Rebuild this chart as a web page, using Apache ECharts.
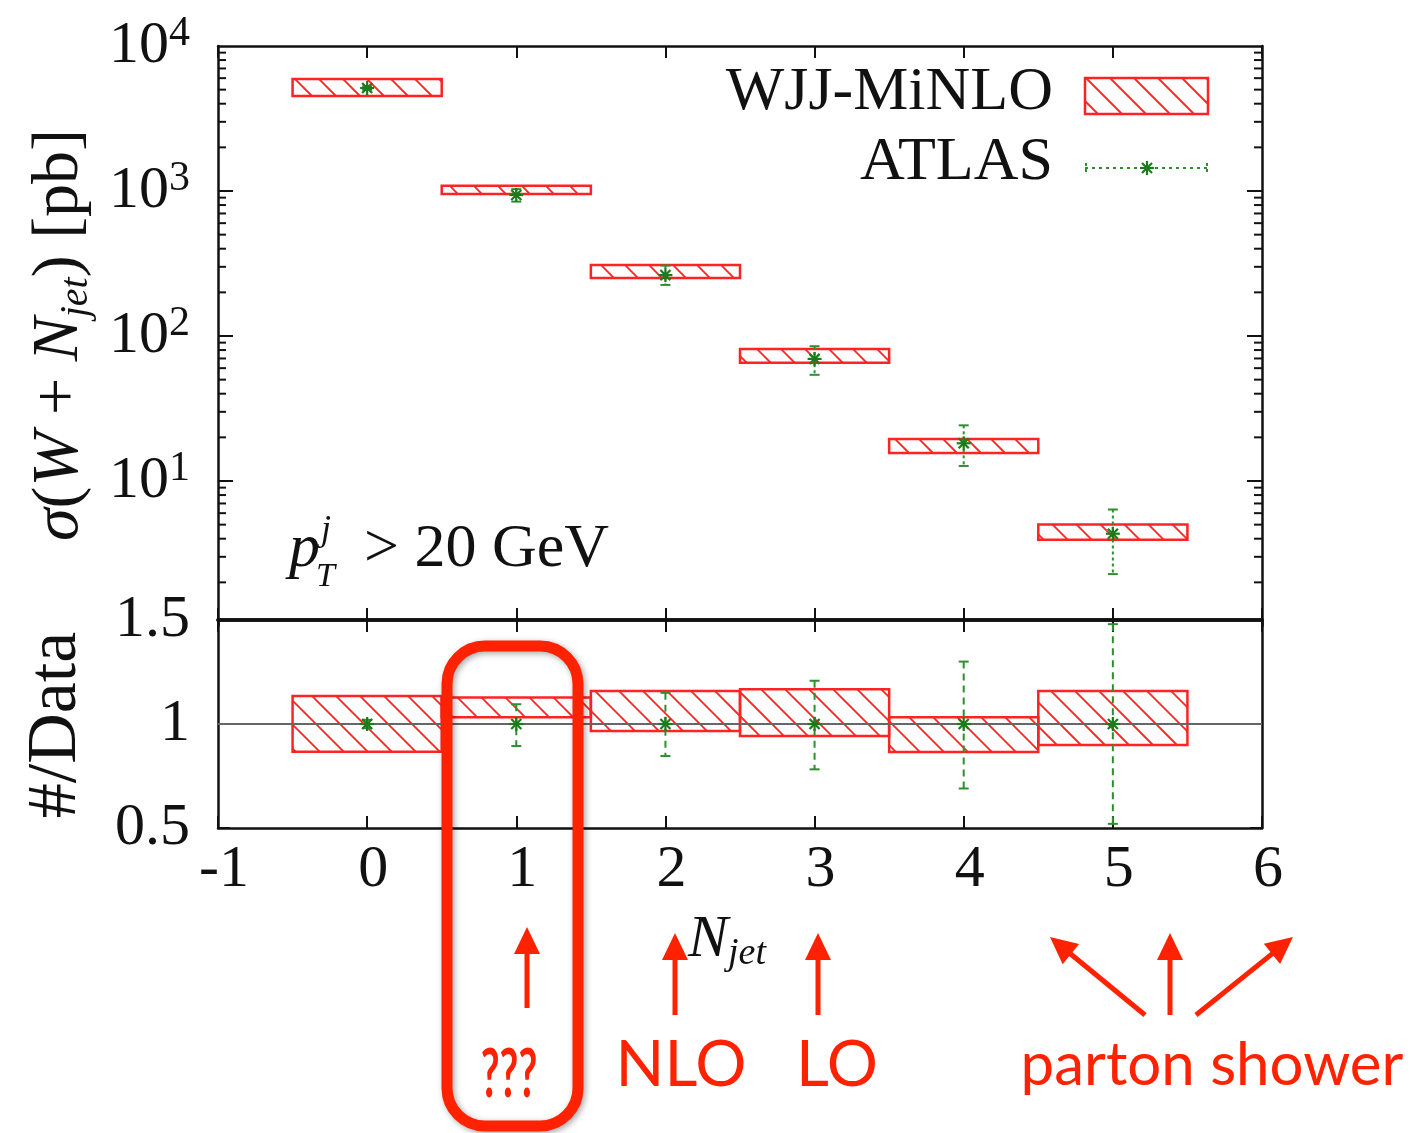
<!DOCTYPE html>
<html>
<head>
<meta charset="utf-8">
<script src="https://cdn.jsdelivr.net/npm/echarts@6/dist/echarts.min.js"></script>
<style>
html,body{margin:0;padding:0;background:#fff;}
#main{width:1416px;height:1133px;}
</style>
</head>
<body>
<div id="main"></div>
<script>
// jet multiplicity bins
var njet = [0, 1, 2, 3, 4, 5];
// WJJ-MiNLO band, cross section [pb]
var minloLo = [4520, 953, 251, 65.3, 15.6, 3.94];
var minloHi = [5915, 1089, 309, 81.5, 19.5, 5.02];
// ATLAS measurement [pb] and its error bar ends
var atlasVal = [5130, 938, 263, 69.5, 18.2, 4.33];
var atlasLo = [4990, 845, 225, 54, 12.7, 2.28];
var atlasHi = [5270, 1030, 306, 85, 24.2, 6.36];
// ratio panel: WJJ-MiNLO / data band
var ratioLo = [0.867, 1.032, 0.966, 0.942, 0.865, 0.899];
var ratioHi = [1.135, 1.128, 1.159, 1.167, 1.032, 1.159];
// ratio panel: data / data with relative error ends
var dataRatio = [1, 1, 1, 1, 1, 1];
var dataRatioLo = [0.98, 0.894, 0.846, 0.782, 0.69, 0.52];
var dataRatioHi = [1.02, 1.095, 1.15, 1.208, 1.30, 1.48];
// log axis ticks
var logDecades = [1, 10, 100, 1000];
var logMantissas = [1, 2, 3, 4, 5, 6, 7, 8, 9];

var SERIF = '"Liberation Serif", "DejaVu Serif", serif';
var SANS = 'Lato, "Open Sans", sans-serif';
var RED = '#ff2200';
var BOXRED = '#ff2323';
var GREEN = '#1d7a1d';
var INK = '#111';

var chart = echarts.init(document.getElementById('main'));

function hatchBox(x0, y0, x1, y1, step) {
  var out = [{
    type: 'rect', shape: {x: x0, y: y0, width: x1 - x0, height: y1 - y0},
    style: {fill: null, stroke: BOXRED, lineWidth: 2.5}
  }];
  var k = Math.ceil((x0 - y1) / step) * step;
  for (; k <= x1 - y0; k += step) {
    var ya = Math.max(y0, x0 - k), yb = Math.min(y1, x1 - k);
    if (yb > ya) {
      out.push({type: 'line', shape: {x1: ya + k, y1: ya, x2: yb + k, y2: yb},
        style: {stroke: BOXRED, lineWidth: 1.8}});
    }
  }
  return out;
}

function star(cx, cy, r, color) {
  var d = r * 0.72;
  return [
    [cx - r, cy, cx + r, cy], [cx, cy - r, cx, cy + r],
    [cx - d, cy - d, cx + d, cy + d], [cx - d, cy + d, cx + d, cy - d]
  ].map(function (s) {
    return {type: 'line', shape: {x1: s[0], y1: s[1], x2: s[2], y2: s[3]}, style: {stroke: color, lineWidth: 2.2}};
  });
}

function renderBand(params, api) {
  var n = api.value(0);
  var a = api.coord([n - 0.5, api.value(2)]);
  var b = api.coord([n + 0.5, api.value(1)]);
  return {type: 'group', children: hatchBox(a[0], a[1], b[0], b[1], 24)};
}

function makeErrRender(dash, capW) {
  return function (params, api) {
    var n = api.value(0);
    var c = api.coord([n, api.value(1)]);
    var lo = api.coord([n, api.value(2)]);
    var hi = api.coord([n, api.value(3)]);
    var st = {stroke: '#2f8f2f', lineWidth: 2, lineDash: dash};
    var kids = [
      {type: 'line', shape: {x1: c[0], y1: hi[1], x2: c[0], y2: lo[1]}, style: st},
      {type: 'line', shape: {x1: c[0] - capW / 2, y1: hi[1], x2: c[0] + capW / 2, y2: hi[1]}, style: {stroke: '#2f8f2f', lineWidth: 2}},
      {type: 'line', shape: {x1: c[0] - capW / 2, y1: lo[1], x2: c[0] + capW / 2, y2: lo[1]}, style: {stroke: '#2f8f2f', lineWidth: 2}}
    ];
    return {type: 'group', children: kids.concat(star(c[0], c[1], 7, GREEN))};
  };
}

function renderLogTick(params, api) {
  var v = api.value(1), len = api.value(2) ? 15 : 8;
  var l = api.coord([-1, v]), r = api.coord([6, v]);
  return {type: 'group', children: [
    {type: 'line', shape: {x1: l[0], y1: l[1], x2: l[0] + len, y2: l[1]}, style: {stroke: INK, lineWidth: 2}},
    {type: 'line', shape: {x1: r[0] - len, y1: r[1], x2: r[0], y2: r[1]}, style: {stroke: INK, lineWidth: 2}}
  ]};
}

var logTicks = [];
logDecades.forEach(function (d) {
  logMantissas.forEach(function (m) {
    if (m * d > 1) logTicks.push([-1, m * d, m === 1 ? 1 : 0]);
  });
});

function arrow(x1, y1, x2, y2) {
  var ang = Math.atan2(y2 - y1, x2 - x1), L = 27, W = 13;
  var bx = x2 - L * Math.cos(ang), by = y2 - L * Math.sin(ang);
  var nx = -Math.sin(ang), ny = Math.cos(ang);
  return [
    {type: 'line', z: 20, shape: {x1: x1, y1: y1, x2: bx + L * 0.3 * Math.cos(ang), y2: by + L * 0.3 * Math.sin(ang)}, style: {stroke: RED, lineWidth: 5}},
    {type: 'polygon', z: 20, shape: {points: [[x2, y2], [bx + nx * W, by + ny * W], [bx - nx * W, by - ny * W]]}, style: {fill: RED}}
  ];
}

function txt(x, y, text, size, opts, extra) {
  var s = {text: text, fontSize: size, fontFamily: SERIF, fill: INK, align: 'left', verticalAlign: 'middle'};
  for (var k in opts) s[k] = opts[k];
  var el = {type: 'text', x: x, y: y, z: 10, style: s};
  for (var e in extra) el[e] = extra[e];
  return el;
}

var axisCommon = {
  splitLine: {show: false},
  axisLine: {show: true, onZero: false, lineStyle: {color: INK, width: 2.5}},
  axisTick: {show: true, inside: true, length: 12, lineStyle: {color: INK, width: 2}},
  axisLabel: {show: false}
};
function ax(extra) {
  var o = JSON.parse(JSON.stringify(axisCommon));
  for (var k in extra) o[k] = extra[k];
  return o;
}

var legendItems = [].concat(
  hatchBox(1085, 78, 1208, 114, 24),
  [
    {type: 'line', shape: {x1: 1085, y1: 168, x2: 1208, y2: 168}, style: {stroke: '#2f8f2f', lineWidth: 2, lineDash: [3, 4]}},
    {type: 'line', shape: {x1: 1086, y1: 163, x2: 1086, y2: 173}, style: {stroke: '#2f8f2f', lineWidth: 2, lineDash: [3, 3]}},
    {type: 'line', shape: {x1: 1207, y1: 163, x2: 1207, y2: 173}, style: {stroke: '#2f8f2f', lineWidth: 2, lineDash: [3, 3]}}
  ],
  star(1147, 168, 7, GREEN)
);

var richTitle = {
  n: {fontSize: 66, fontFamily: SERIF, lineHeight: 72, fill: INK},
  i: {fontSize: 66, fontFamily: SERIF, fontStyle: 'italic', lineHeight: 72, fill: INK},
  sub: {fontSize: 40, fontFamily: SERIF, fontStyle: 'italic', lineHeight: 28, verticalAlign: 'bottom', fill: INK}
};
var richAxisName = {
  i: {fontSize: 60, fontFamily: SERIF, fontStyle: 'italic', lineHeight: 66, fill: INK},
  sub: {fontSize: 38, fontFamily: SERIF, fontStyle: 'italic', lineHeight: 26, verticalAlign: 'bottom', fill: INK}
};

var graphics = [].concat(
  legendItems,
  [
    txt(1053, 93, 'WJJ-MiNLO', 62, {align: 'right'}),
    txt(1053, 163, 'ATLAS', 62, {align: 'right'}),
    {type: 'text', x: 60, y: 335, rotation: Math.PI / 2, z: 10, style: {
      text: '{i|σ}{n|(}{i|W}{n| + }{i|N}{sub|jet}{n|) [pb]}', rich: richTitle,
      align: 'center', verticalAlign: 'middle', fontFamily: SERIF}},
    {type: 'text', x: 57, y: 725, rotation: Math.PI / 2, z: 10, style: {
      text: '#/Data', fontSize: 70, fontFamily: SERIF, fill: INK, align: 'center', verticalAlign: 'middle'}},
    txt(289, 550, 'p', 62, {fontStyle: 'italic'}),
    txt(321, 531, 'j', 36, {fontStyle: 'italic'}),
    txt(316, 577, 'T', 34, {fontStyle: 'italic'}),
    txt(364, 550, '> 20 GeV', 62),
    {type: 'text', x: 688, y: 940, z: 10, style: {
      text: '{i|N}{sub|jet}', rich: richAxisName, align: 'left', verticalAlign: 'middle', fontFamily: SERIF}},
    {type: 'rect', z: 20, shape: {x: 447, y: 646, width: 131, height: 480, r: 38},
      style: {fill: null, stroke: RED, lineWidth: 11, shadowBlur: 6, shadowColor: 'rgba(0,0,0,0.35)', shadowOffsetX: 2, shadowOffsetY: 2}},
    txt(509, 1076, '???', 66, {fontFamily: SANS, fontWeight: 'bold', fill: RED, align: 'center'}, {scaleX: 0.62}),
    txt(681, 1065, 'NLO', 64, {fontFamily: SANS, fill: RED, align: 'center'}),
    txt(837, 1065, 'LO', 64, {fontFamily: SANS, fill: RED, align: 'center'}),
    txt(1212, 1066, 'parton shower', 60, {fontFamily: SANS, fill: RED, align: 'center'})
  ],
  arrow(527, 1008, 527, 927),
  arrow(675, 1015, 675, 933),
  arrow(818, 1015, 818, 933),
  arrow(1170, 1015, 1170, 933),
  arrow(1145, 1015, 1050, 937),
  arrow(1196, 1015, 1293, 937)
);

chart.setOption({
  animation: false,
  backgroundColor: '#fff',
  grid: [
    {left: 218, top: 46, width: 1044, height: 580},
    {left: 218, top: 620, width: 1044, height: 208}
  ],
  xAxis: [
    ax({gridIndex: 0, type: 'value', min: -1, max: 6, interval: 1, position: 'top'}),
    ax({gridIndex: 0, type: 'value', min: -1, max: 6, interval: 1, position: 'bottom', offset: -6,
      axisLine: {show: true, onZero: false, lineStyle: {color: INK, width: 3.5}}}),
    ax({gridIndex: 1, type: 'value', min: -1, max: 6, interval: 1, position: 'top',
      axisLine: {show: true, onZero: false, lineStyle: {color: INK, width: 3.5}}}),
    ax({gridIndex: 1, type: 'value', min: -1, max: 6, interval: 1, position: 'bottom',
      axisLabel: {show: true, fontSize: 60, fontFamily: SERIF, color: INK, margin: 12, padding: [0, 0, 0, 12]}})
  ],
  yAxis: [
    ax({gridIndex: 0, type: 'log', logBase: 10, min: 1, max: 10000, position: 'left',
      axisTick: {show: false},
      axisLabel: {show: true, margin: 28, color: INK,
        formatter: function (v) {
          var e = Math.round(Math.log10(v));
          return e < 1 ? '' : '{b|10}{s|' + e + '}';
        },
        rich: {
          b: {fontSize: 60, fontFamily: SERIF, lineHeight: 66, color: INK},
          s: {fontSize: 42, fontFamily: SERIF, lineHeight: 36, verticalAlign: 'top', color: INK}
        }}}),
    ax({gridIndex: 0, type: 'log', logBase: 10, min: 1, max: 10000, position: 'right', axisTick: {show: false}}),
    ax({gridIndex: 1, type: 'value', min: 0.5, max: 1.5, interval: 0.5, position: 'left',
      axisLabel: {show: true, fontSize: 60, fontFamily: SERIF, color: INK, margin: 28}}),
    ax({gridIndex: 1, type: 'value', min: 0.5, max: 1.5, interval: 0.5, position: 'right'})
  ],
  series: [
    {type: 'custom', xAxisIndex: 0, yAxisIndex: 0, silent: true, renderItem: renderLogTick, data: logTicks},
    {type: 'custom', name: 'WJJ-MiNLO', xAxisIndex: 0, yAxisIndex: 0, silent: true, renderItem: renderBand,
      data: njet.map(function (n, i) { return [n, minloLo[i], minloHi[i]]; })},
    {type: 'custom', name: 'ATLAS', xAxisIndex: 0, yAxisIndex: 0, silent: true, z: 5,
      renderItem: makeErrRender([3, 3], 10),
      data: njet.map(function (n, i) { return [n, atlasVal[i], atlasLo[i], atlasHi[i]]; })},
    {type: 'line', xAxisIndex: 3, yAxisIndex: 2, silent: true, symbol: 'none',
      lineStyle: {color: '#666', width: 2.2}, data: [[-1, 1], [6, 1]]},
    {type: 'custom', xAxisIndex: 3, yAxisIndex: 2, silent: true, renderItem: renderBand,
      data: njet.map(function (n, i) { return [n, ratioLo[i], ratioHi[i]]; })},
    {type: 'custom', xAxisIndex: 3, yAxisIndex: 2, silent: true, z: 5,
      renderItem: makeErrRender([7, 5], 10),
      data: njet.map(function (n, i) { return [n, dataRatio[i], dataRatioLo[i], dataRatioHi[i]]; })}
  ],
  graphic: {elements: graphics}
});
</script>
</body>
</html>
